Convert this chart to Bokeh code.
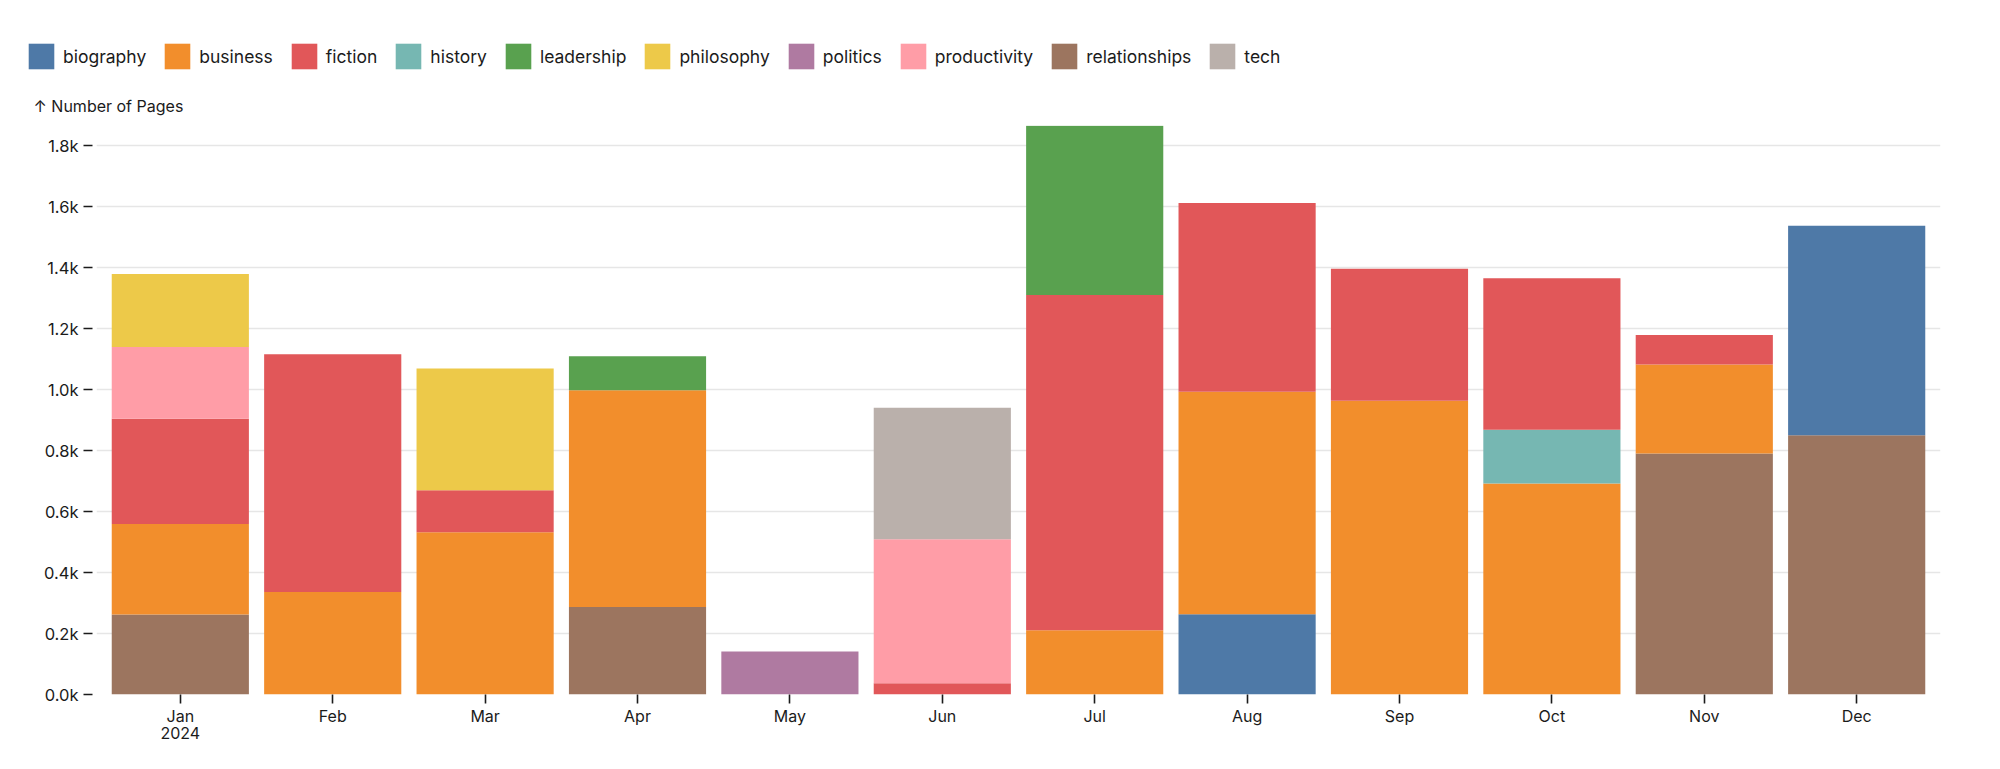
from bokeh.plotting import figure
from bokeh.layouts import column
from bokeh.models import (Range1d, FixedTicker, CustomJSTickFormatter, Legend,
                          LegendItem, Title, ColumnDataSource)
from bokeh.embed import file_html
from bokeh.resources import INLINE

# ---------------- data ----------------
months = ["Jan", "Feb", "Mar", "Apr", "May", "Jun",
          "Jul", "Aug", "Sep", "Oct", "Nov", "Dec"]
month_labels = ["Jan\n2024", "Feb", "Mar", "Apr", "May", "Jun",
                "Jul", "Aug", "Sep", "Oct", "Nov", "Dec"]

legend_order = ["biography", "business", "fiction", "history", "leadership",
                "philosophy", "politics", "productivity", "relationships", "tech"]
stack_order = ["relationships", "biography", "business", "history", "fiction",
               "productivity", "philosophy", "tech", "leadership", "politics"]

biography     = [0,   0,   0,   0,   0,   0,   0,    263, 0,   0,   0,   687]
business      = [297, 336, 532, 711, 0,   0,   211,  730, 963, 692, 292, 0]
fiction       = [345, 780, 138, 0,   0,   37,  1099, 619, 433, 497, 97,  0]
history       = [0,   0,   0,   0,   0,   0,   0,    0,   0,   176, 0,   0]
leadership    = [0,   0,   0,   111, 0,   0,   555,  0,   0,   0,   0,   0]
philosophy    = [239, 0,   399, 0,   0,   0,   0,    0,   0,   0,   0,   0]
politics      = [0,   0,   0,   0,   141, 0,   0,    0,   0,   0,   0,   0]
productivity  = [236, 0,   0,   0,   0,   472, 0,    0,   0,   0,   0,   0]
relationships = [262, 0,   0,   287, 0,   0,   0,    0,   0,   0,   790, 850]
tech          = [0,   0,   0,   0,   0,   431, 0,    0,   0,   0,   0,   0]

colors = {
    "biography": "#4e79a7", "business": "#f28e2c", "fiction": "#e15759",
    "history": "#76b7b2", "leadership": "#59a14f", "philosophy": "#edc949",
    "politics": "#af7aa1", "productivity": "#ff9da7", "relationships": "#9c755f",
    "tech": "#bab0ab",
}
y_ticks = [0, 200, 400, 600, 800, 1000, 1200, 1400, 1600, 1800]
y_max = 1866
y_title = "\u2191 Number of Pages"

FONT = "Inter"
TEXT_COLOR = "#1b1b1b"

W, H = 1984, 753
LEG_H = 80
FRAME_LEFT = 96
GLYPH = 32            # legend glyph box (swatch is drawn inset at ~80%)

data = {
    "x": list(range(len(months))),
    "biography": biography, "business": business, "fiction": fiction,
    "history": history, "leadership": leadership, "philosophy": philosophy,
    "politics": politics, "productivity": productivity,
    "relationships": relationships, "tech": tech,
}
source = ColumnDataSource(data)

# ---------------- legend strip ----------------
leg = figure(width=W, height=LEG_H, output_backend="svg", toolbar_location=None,
             x_range=Range1d(-0.55, len(months) - 1 + 0.55),
             y_range=Range1d(0, y_max),
             x_axis_location=None, y_axis_location=None)
leg.min_border = 0
leg.min_border_left = 0
leg.min_border_right = 0
leg.min_border_top = 0
leg.min_border_bottom = 0
leg.outline_line_color = None
leg.xgrid.visible = False
leg.ygrid.visible = False
leg_x = 25
if "frame_align" in leg.properties():
    leg.frame_align = False
else:
    leg_x = 25 - FRAME_LEFT
# legend keys: the same stacks, hidden (only their legend swatches are shown)
leg_r = leg.vbar_stack(stack_order, x="x", width=0.9, source=source,
                       fill_color=[colors[c] for c in stack_order], line_color=None)
for r in leg_r:
    r.visible = False
leg_map = dict(zip(stack_order, leg_r))
legend = Legend(items=[LegendItem(label=c, renderers=[leg_map[c]])
                       for c in legend_order],
                orientation="horizontal", location=(leg_x, LEG_H - 56 - GLYPH // 2),
                glyph_width=GLYPH, glyph_height=GLYPH, label_standoff=6, spacing=15,
                padding=0, margin=0, border_line_color=None,
                background_fill_alpha=0, inactive_fill_alpha=0,
                label_text_font=FONT,
                label_text_font_size="17.5px", label_text_color=TEXT_COLOR,
                label_height=GLYPH)
leg.add_layout(legend, "center")

# ---------------- main chart ----------------
p = figure(width=W, height=H - LEG_H, output_backend="svg", toolbar_location=None,
           x_range=Range1d(-0.55, len(months) - 1 + 0.55),
           y_range=Range1d(0, y_max))
p.min_border_left = FRAME_LEFT
p.min_border_right = 44
p.min_border_top = 125 - LEG_H
p.min_border_bottom = 59
p.outline_line_color = None
p.background_fill_color = "white"
p.border_fill_color = "white"

p.vbar_stack(stack_order, x="x", width=0.9, source=source,
             fill_color=[colors[c] for c in stack_order], line_color=None)

# grid
p.xgrid.grid_line_color = None
p.ygrid.grid_line_color = "#e6e6e6"
p.ygrid.grid_line_width = 1.6
p.ygrid.level = "underlay"

# y axis
yax = p.yaxis[0]
yax.ticker = FixedTicker(ticks=y_ticks)
yax.formatter = CustomJSTickFormatter(code="return (tick/1000).toFixed(1) + 'k';")
yax.axis_line_color = None
yax.major_tick_in = -4
yax.major_tick_out = 13
yax.major_tick_line_color = TEXT_COLOR
yax.major_tick_line_width = 1.6
yax.minor_tick_line_color = None
yax.major_label_standoff = 5
yax.major_label_text_font = FONT
yax.major_label_text_font_size = "16.5px"
yax.major_label_text_color = TEXT_COLOR

# x axis
xax = p.xaxis[0]
xax.ticker = FixedTicker(ticks=list(range(len(months))))
xax.major_label_overrides = {i: lab for i, lab in enumerate(month_labels)}
xax.axis_line_color = None
xax.major_tick_in = 0
xax.major_tick_out = 9
xax.major_tick_line_color = TEXT_COLOR
xax.major_tick_line_width = 1.6
xax.minor_tick_line_color = None
xax.major_label_standoff = 2
xax.major_label_text_font = FONT
xax.major_label_text_font_size = "16px"
xax.major_label_text_color = TEXT_COLOR
xax.major_label_text_line_height = 0.85

# y axis title (above the frame, left aligned)
p.add_layout(Title(text=y_title, align="left", offset=-63, standoff=20,
                   text_font=FONT, text_font_size="16px",
                   text_font_style="normal", text_color=TEXT_COLOR), "above")

layout = column(leg, p, spacing=0)
open("out.html", "w").write(file_html(layout, INLINE))
